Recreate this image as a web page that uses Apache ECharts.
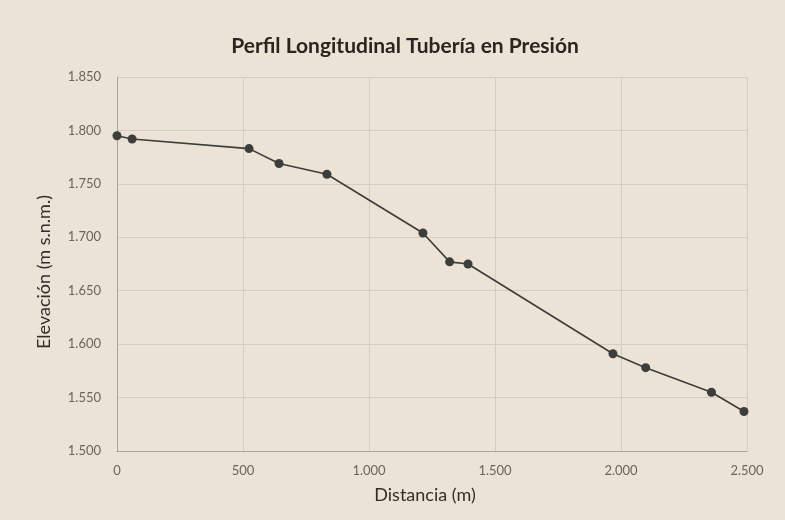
<!DOCTYPE html>
<html><head><meta charset="utf-8">
<script src="https://cdn.jsdelivr.net/npm/echarts@6/dist/echarts.min.js"></script>
<style>html,body{margin:0;padding:0;background:#ebe3d6;}#c{width:785px;height:520px;}</style>
</head><body><div id="c"></div>
<script>
const distancia = [0, 60, 524, 643, 833, 1214, 1320, 1393, 1968, 2098, 2359, 2488];
const elevacion = [1795, 1792, 1783, 1769, 1759, 1704, 1677, 1675, 1591, 1578, 1555, 1537];
const titleText = 'Perfil Longitudinal Tubería en Presión';
const xName = 'Distancia (m)';
const yName = 'Elevación (m s.n.m.)';

function fmt(v){ return String(v).replace(/\B(?=(\d{3})+(?!\d))/g, '.'); }

const chart = echarts.init(document.getElementById('c'));
chart.setOption({
  backgroundColor: '#ebe3d6',
  title: { text: titleText, left: 400, textAlign: 'center', top: 31,
    textStyle: { fontFamily: 'Lato', fontSize: 21, fontWeight: 'bold', color: '#2a2521' } },
  grid: { left: 117, right: 38, top: 77, bottom: 69 },
  xAxis: { type: 'value', min: 0, max: 2500, interval: 500,
    name: xName, nameLocation: 'middle', nameGap: 35,
    nameTextStyle: { fontFamily: 'Lato', fontSize: 18, color: '#332e29', padding: [0, 14, 0, 0] },
    axisLine: { lineStyle: { color: '#a8a29a' } }, axisTick: { show: false },
    axisLabel: { formatter: fmt, fontFamily: 'Lato', fontSize: 13, color: '#6a645c', margin: 13 },
    splitLine: { show: true, lineStyle: { color: '#d2ccc3', width: 1 } } },
  yAxis: { type: 'value', min: 1500, max: 1850, interval: 50,
    name: yName, nameLocation: 'middle', nameGap: 64, nameRotate: 90,
    nameTextStyle: { fontFamily: 'Lato', fontSize: 18, color: '#332e29', padding: [0, 16, 0, 0] },
    axisLine: { show: true, lineStyle: { color: '#a8a29a' } }, axisTick: { show: false },
    axisLabel: { formatter: fmt, fontFamily: 'Lato', fontSize: 13, color: '#6a645c', margin: 16 },
    splitLine: { show: true, lineStyle: { color: '#d2ccc3', width: 1 } } },
  series: [{ type: 'line', data: distancia.map((d, i) => [d, elevacion[i]]),
    symbol: 'circle', symbolSize: 9,
    itemStyle: { color: '#3d3d3a' }, lineStyle: { color: '#3d3d3a', width: 1.6 },
    animation: false }]
});
</script></body></html>
